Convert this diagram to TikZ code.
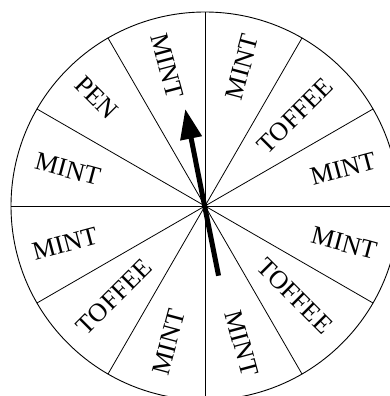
\documentclass[tikz,border=0pt]{standalone}
\usepackage{fontspec}
\setmainfont{Liberation Serif}
\usetikzlibrary{arrows.meta,calc}

\begin{document}
\begin{tikzpicture}[
    x=1pt, y=1pt,
    rim/.style={draw=black, line width=0.9pt},
    spoke/.style={draw=black, line width=0.8pt},
    prize/.style={font=\fontsize{26}{26}\selectfont, inner sep=0pt},
    pointer/.style={line width=5pt, -{Triangle[length=30pt,width=21pt]}}
  ]
  \useasboundingbox (0,0) rectangle (389,-396);

  %% Wheel
  \coordinate (c) at (205,-206);
  \draw[rim] (c) circle[radius=194pt];
  \foreach \a in {0,30,...,330}{
    \coordinate (r\a) at ($(c)+(\a:194)$);
    \draw[spoke] (c) -- (r\a);
  }

  %% Prizes
  \foreach \a/\rot/\r/\txt in {15/15/143/MINT, 45/45/128/TOFFEE,
      75/75/144/MINT, 105/-75/145/MINT, 135/-45/153/PEN,
      165/-15/142/MINT, 195/15/145/MINT, 225/45/128/TOFFEE,
      255/75/141/MINT, 285/-75/142/MINT, 315/-45/127/TOFFEE,
      345/-15/144/MINT}{
    \node[prize, rotate=\rot] (p\a) at ($(c)+(\a:\r)$) {\txt};
  }

  %% Pointer
  \coordinate (tail) at ($(c)+(281:71)$);
  \coordinate (tip) at ($(c)+(101.5:99)$);
  \draw[pointer] (tail) -- (tip);

\end{tikzpicture}
\end{document}
